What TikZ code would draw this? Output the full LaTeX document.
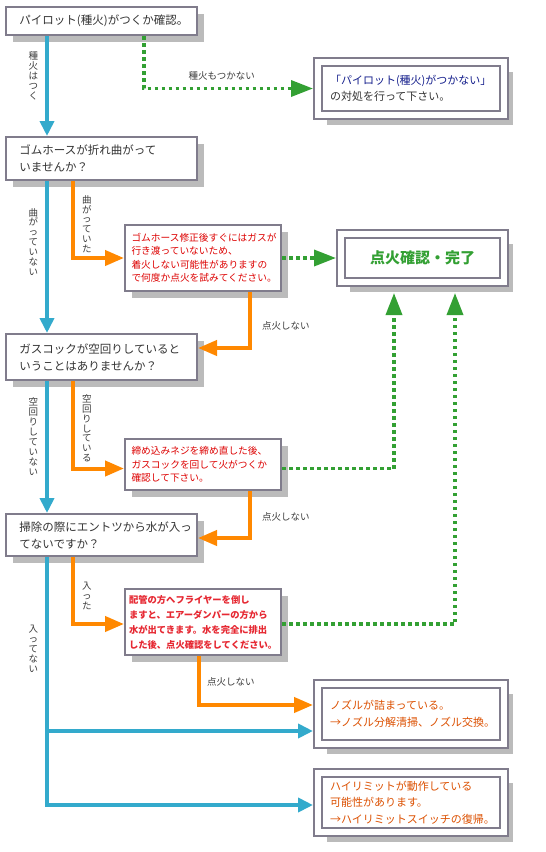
\documentclass[tikz,border=0pt]{standalone}
\usepackage{fontspec}
\setmainfont{Noto Sans CJK JP}
\usepackage{xcolor}
\usepackage{tikz}
\usetikzlibrary{positioning,arrows.meta,shadows}
\definecolor{framegray}{RGB}{128,124,140}
\definecolor{shadegray}{RGB}{187,187,187}
\definecolor{flowblue}{RGB}{51,170,204}
\definecolor{floworange}{RGB}{255,136,0}
\definecolor{flowgreen}{RGB}{51,160,51}
\definecolor{textgray}{RGB}{51,51,51}
\definecolor{labgray}{RGB}{60,60,60}
\definecolor{warnred}{RGB}{221,0,0}
\definecolor{warnpink}{RGB}{230,40,50}
\definecolor{hintorange}{RGB}{220,80,0}
\definecolor{pilotnavy}{RGB}{20,30,140}
\tikzset{
  qbox/.style  = {draw=framegray, line width=2pt, fill=white, align=left, text=textgray,
                  font=\fontsize{11.5}{17}\selectfont, inner xsep=13.5pt, inner ysep=2pt,
                  text width=164pt, minimum width=191pt,
                  drop shadow={shadow xshift=7pt, shadow yshift=-7pt, fill=shadegray, opacity=1}},
  rbox/.style  = {qbox, text=warnred, font=\fontsize{9.7}{13.5}\selectfont, inner xsep=6.5pt,
                  text width=143pt, minimum width=156pt},
  dbox/.style  = {draw=framegray, line width=2pt, double=white, double distance=6pt, outer sep=5pt,
                  fill=white, align=left, font=\fontsize{11}{16.5}\selectfont, inner xsep=12pt,
                  inner ysep=2pt, text width=162pt, minimum width=186pt,
                  drop shadow={shadow xshift=9pt, shadow yshift=-10pt, fill=shadegray, opacity=1}},
  yes/.style   = {-{Triangle[length=15pt, width=14pt]}, line width=4pt, draw=flowblue},
  retry/.style = {-{Triangle[length=19pt, width=15pt]}, line width=4pt, draw=floworange},
  nogo/.style  = {-{Triangle[length=22pt, width=16pt]}, line width=3.5pt, draw=flowgreen,
                  dash pattern=on 3.5pt off 3.5pt},
  vlab/.style  = {align=center, inner sep=0pt, text=labgray, font=\fontsize{9.5}{9.9}\selectfont},
  hlab/.style  = {inner sep=0pt, text=labgray, font=\fontsize{9.5}{11}\selectfont},
}

\begin{document}
\begin{tikzpicture}
  \useasboundingbox (0,0) rectangle (546pt,-852pt);
  \node[qbox, minimum height=28pt, anchor=north west] (pilot) at (5pt,-6pt) {パイロット(種火)がつくか確認。};
  \node[qbox, minimum height=43pt, below=100pt of pilot] (hose) {ゴムホースが折れ曲がって\\いませんか？};
  \node[qbox, minimum height=46pt, below=152pt of hose] (cock) {ガスコックが空回りしていると\\いうことはありませんか？};
  \node[qbox, minimum height=42pt, below=132pt of cock] (clean) {掃除の際にエントツから水が入っ\\てないですか？};
  \node[rbox, minimum height=66pt, below right=43pt and -74pt of hose] (fix) {ゴムホース修正後すぐにはガスが\\行き渡っていないため、\\着火しない可能性がありますの\\で何度か点火を試みてください。};
  \node[rbox, minimum height=51pt, below right=57pt and -74pt of cock] (retight) {締め込みネジを締め直した後、\\ガスコックを回して火がつくか\\確認して下さい。};
  \node[rbox, minimum height=66pt, below right=31pt and -74pt of clean, text=warnpink, font=\fontsize{9.3}{15}\selectfont\bfseries,
        inner xsep=4pt, text width=148pt] (drain) {配管の方へフライヤーを倒し\\ますと、エアーダンパーの方から\\水が出てきます。水を完全に排出\\した後、点火確認をしてください。};
  \node[dbox, minimum height=53pt, below right=21pt and 115pt of pilot] (pout) {\textcolor{pilotnavy}{「パイロット(種火)がつかない」}\\\textcolor{textgray}{の対処を行って下さい。}};
  \node[dbox, minimum height=48pt, minimum width=163pt, text width=139pt, align=center, right=54pt of fix,
        text=flowgreen, font=\fontsize{15}{17}\selectfont\bfseries] (done) {点火確認・完了};
  \node[dbox, minimum height=60pt, below right=23pt and 31pt of drain, text=hintorange] (nozzle) {ノズルが詰まっている。\\→ノズル分解清掃、ノズル交換。};
  \node[dbox, minimum height=59pt, below=19pt of nozzle, text=hintorange] (limit) {ハイリミットが動作している\\可能性があります。\\→ハイリミットスイッチの復帰。};
  \draw[yes] ([xshift=42pt]pilot.south west) -- node[vlab, pos=0.4, left=7pt] (lbl1) {種\\火\\は\\つ\\く} ([xshift=42pt]hose.north west);
  \draw[nogo] ([xshift=139pt]pilot.south west) |- node[hlab, pos=0.73, above=6pt] (lbl2) {種火もつかない} (pout.west);
  \draw[yes] ([xshift=42pt]hose.south west) -- node[vlab, pos=0.4, left=7pt] (lbl3) {曲\\が\\っ\\て\\い\\な\\い} ([xshift=42pt]cock.north west);
  \draw[retry] ([xshift=68pt]hose.south west) |- node[vlab, pos=0.28, right=7pt] (lbl4) {曲\\が\\っ\\て\\い\\た} (fix.west);
  \draw[nogo] (fix.east) -- (done.west);
  \draw[retry] ([xshift=-32pt]fix.south east) |- node[hlab, pos=0.3, right=10pt] (lbl5) {点火しない} ([yshift=9pt]cock.east);
  \draw[yes] ([xshift=42pt]cock.south west) -- node[vlab, pos=0.42, left=7pt] (lbl6) {空\\回\\り\\し\\て\\い\\な\\い} ([xshift=42pt]clean.north west);
  \draw[retry] ([xshift=68pt]cock.south west) |- node[vlab, pos=0.27, right=7pt] (lbl7) {空\\回\\り\\し\\て\\い\\る} ([yshift=-4pt]retight.west);
  \draw[nogo, shorten >=6pt] ([yshift=-4pt]retight.east) -| ([xshift=58pt]done.south west);
  \draw[retry] ([xshift=-32pt]retight.south east) |- node[hlab, pos=0.28, right=10pt] (lbl8) {点火しない} ([yshift=-3pt]clean.east);
  \draw[retry] ([xshift=68pt]clean.south west) |- node[vlab, pos=0.29, right=7pt] (lbl9) {入\\っ\\た} ([yshift=-2pt]drain.west);
  \draw[nogo, shorten >=6pt] ([yshift=-2pt]drain.east) -| ([xshift=119pt]done.south west);
  \draw[retry] ([xshift=75pt]drain.south west) |- node[hlab, pos=0.26, right=6pt] (lbl10) {点火しない} ([yshift=9pt]nozzle.west);
  \draw[yes] ([xshift=42pt]clean.south west) |- ([yshift=-17pt]nozzle.west);
  \draw[yes] ([xshift=42pt]clean.south west) |- node[vlab, pos=0.185, left=7pt] (lbl11) {入\\っ\\て\\な\\い} ([yshift=-2.5pt]limit.west);
\end{tikzpicture}
\end{document}
